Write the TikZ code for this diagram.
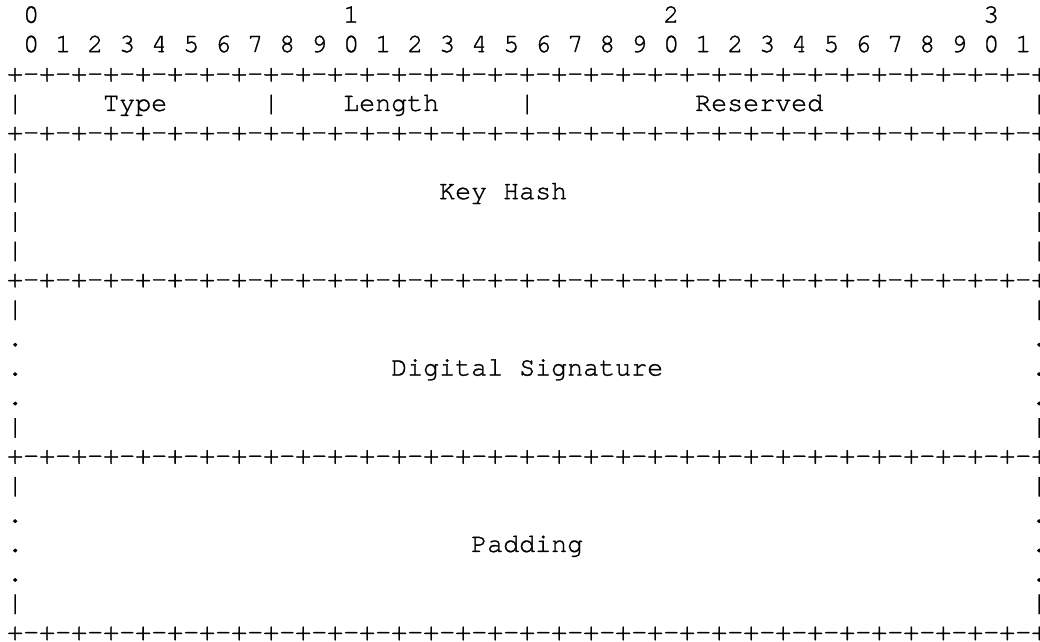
\documentclass[tikz,border=0pt]{standalone}
\usepackage{fontspec}
\usepackage{tikz}
\setmonofont{TeX Gyre Cursor}[FakeBold=1.2]

\begin{document}
\begin{tikzpicture}[x=1pt, y=1pt,
        asciitext/.style={anchor=base west, inner sep=0pt,
            font=\ttfamily\fontsize{26.67}{29.4}\selectfont}]

            \def\ColW{16}
            \def\ColX{7}
            \def\RowH{29.4}
            \def\RowY{22.7}
            \def\BorderRow{+-+-+-+-+-+-+-+-+-+-+-+-+-+-+-+-+-+-+-+-+-+-+-+-+-+-+-+-+-+-+-+-+}

            \newcommand{\AsciiCell}[4]{%
                \node[asciitext] (#1) at ({\ColX+\ColW*#2},{-\RowY-\RowH*#3}) {#4};
            }
            \newcommand{\SideMarks}[2]{%
                \AsciiCell{sideL#1}{0}{#1}{#2}
                \AsciiCell{sideR#1}{64}{#1}{#2}
            }

            \useasboundingbox (0,0) rectangle (1040,-641);

            % bit ruler
            \AsciiCell{tenZero}{1}{0}{0}
            \AsciiCell{tenOne}{21}{0}{1}
            \AsciiCell{tenTwo}{41}{0}{2}
            \AsciiCell{tenThree}{61}{0}{3}
            \AsciiCell{bitRuler}{1}{1}{0 1 2 3 4 5 6 7 8 9 0 1 2 3 4 5 6 7 8 9 0 1 2 3 4 5 6 7 8 9 0 1}

            % first word
            \AsciiCell{borderA}{0}{2}{\BorderRow}
            \AsciiCell{typeBarL}{0}{3}{|}
            \AsciiCell{typeLabel}{6}{3}{Type}
            \AsciiCell{typeBarR}{16}{3}{|}
            \AsciiCell{lengthLabel}{21}{3}{Length}
            \AsciiCell{lengthBarR}{32}{3}{|}
            \AsciiCell{reservedLabel}{43}{3}{Reserved}
            \AsciiCell{reservedBarR}{64}{3}{|}
            \AsciiCell{borderB}{0}{4}{\BorderRow}

            % key hash
            \SideMarks{5}{|}
            \SideMarks{6}{|}
            \AsciiCell{keyHashLabel}{27}{6}{Key Hash}
            \SideMarks{7}{|}
            \SideMarks{8}{|}
            \AsciiCell{borderC}{0}{9}{\BorderRow}

            % digital signature
            \SideMarks{10}{|}
            \SideMarks{11}{.}
            \SideMarks{12}{.}
            \AsciiCell{signatureLabel}{24}{12}{Digital Signature}
            \SideMarks{13}{.}
            \SideMarks{14}{|}
            \AsciiCell{borderD}{0}{15}{\BorderRow}

            % padding
            \SideMarks{16}{|}
            \SideMarks{17}{.}
            \SideMarks{18}{.}
            \AsciiCell{paddingLabel}{29}{18}{Padding}
            \SideMarks{19}{.}
            \SideMarks{20}{|}
            \AsciiCell{borderE}{0}{21}{\BorderRow}

        \end{tikzpicture}
\end{document}
